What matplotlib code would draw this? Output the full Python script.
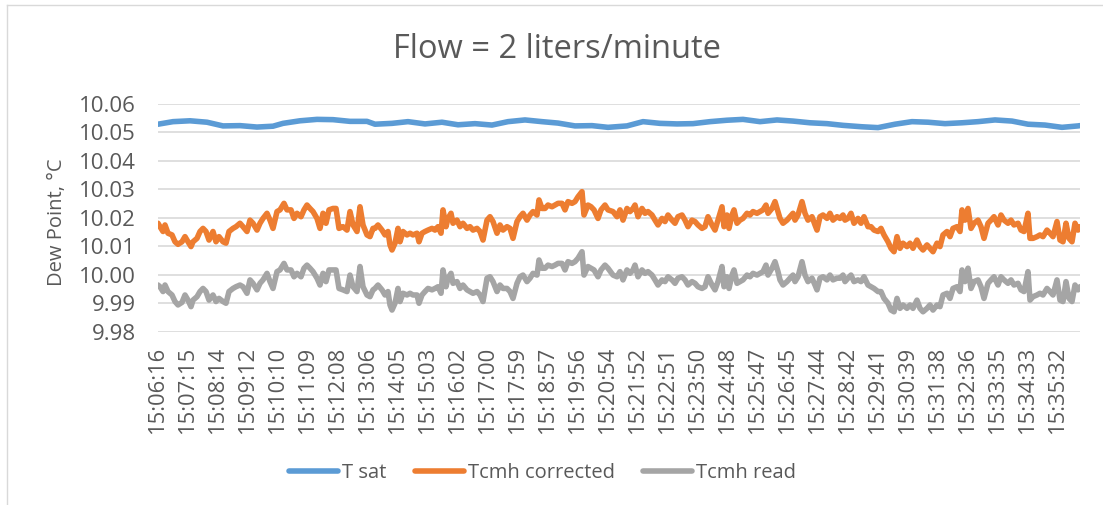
import matplotlib
matplotlib.use("Agg")
import matplotlib.pyplot as plt
from matplotlib.lines import Line2D

plt.rcParams['font.family'] = ['Open Sans', 'DejaVu Sans']

title = "Flow = 2 liters/minute"
y_label = "Dew Point, °C"
series_names = ["T sat", "Tcmh corrected", "Tcmh read"]
colors = ["#5B9BD5", "#ED7D31", "#A5A5A5"]

tick_labels = ["15:06:16", "15:07:15", "15:08:14", "15:09:12", "15:10:10", "15:11:09",
               "15:12:08", "15:13:06", "15:14:05", "15:15:03", "15:16:02", "15:17:00",
               "15:17:59", "15:18:57", "15:19:56", "15:20:54", "15:21:52", "15:22:51",
               "15:23:50", "15:24:48", "15:25:47", "15:26:45", "15:27:44", "15:28:42",
               "15:29:41", "15:30:39", "15:31:38", "15:32:36", "15:33:35", "15:34:33",
               "15:35:32"]
samples_per_label = 30
n_samples = 923

# T sat readings (sample number, value)
tsat_idx = [0, 15, 32, 49, 65, 82, 99, 115, 125, 142, 159, 175, 192, 209,
            217, 234, 250, 267, 284, 300, 317, 334, 350, 367, 384, 400, 417, 434, 450,
            469, 485, 502, 519, 535, 552, 569, 585, 602, 619, 635, 652, 669, 685,
            704, 720, 737, 754, 770, 787, 804, 820, 837, 854, 870, 887, 904, 920, 922]
tsat = [10.0529, 10.0538, 10.0541, 10.0536, 10.0523, 10.0524, 10.0519, 10.0522, 10.0532, 10.0541, 10.0546, 10.0545, 10.0539, 10.0539,
        10.0529, 10.0532, 10.0538, 10.0530, 10.0536, 10.0527, 10.0531, 10.0526, 10.0538, 10.0544, 10.0538, 10.0533, 10.0523, 10.0524, 10.0518,
        10.0523, 10.0538, 10.0532, 10.0530, 10.0531, 10.0538, 10.0543, 10.0546, 10.0538, 10.0544, 10.0540, 10.0534, 10.0531, 10.0525,
        10.0520, 10.0517, 10.0529, 10.0538, 10.0536, 10.0531, 10.0534, 10.0538, 10.0544, 10.0540, 10.0529, 10.0526, 10.0518, 10.0523, 10.0524]

# Tcmh readings (sample number shared by both Tcmh series)
tcmh_idx = [0, 2, 5, 7, 10, 14, 17, 20, 24, 27, 30, 33, 35, 39, 42, 45, 48, 51, 55, 58,
            61, 65, 68, 71, 75, 78, 82, 85, 89, 92, 95, 99, 102, 105, 109, 112, 115, 119, 122, 126,
            129, 133, 136, 139, 143, 146, 149, 152, 155, 159, 162, 165, 168, 171, 175, 178, 181, 185, 189, 192,
            195, 199, 202, 205, 209, 212, 215,
            217, 220, 224, 227, 230, 232, 234, 237, 240, 242, 245, 249, 252, 255, 259,
            261, 264, 267, 270, 274, 277, 280, 283, 285, 288, 290, 293, 295, 299, 302,
            305, 309, 312, 315, 319, 322, 325, 329, 332, 335, 339, 342, 345, 349, 352,
            355, 359, 362, 365, 369, 372, 375, 379, 381, 384, 387, 390, 394, 397, 400,
            404, 407, 410, 414, 417, 420, 424, 426, 430, 433, 436, 440, 443, 447, 450,
            455, 459, 462, 465, 469, 472, 475, 477, 480, 484, 487, 490, 494, 497, 500,
            504, 507, 510, 514, 517, 520, 524, 527, 530, 534, 537, 540, 544, 547, 550,
            554, 557, 560, 564, 566, 569, 571, 574, 576, 579, 582, 585, 589, 592, 595,
            599, 602, 605, 608, 610, 614, 617, 620, 622, 625, 629, 632, 635, 637, 640,
            644, 647, 650, 654, 657, 659, 662, 665, 669, 672, 675, 679, 682, 685,
            687, 690, 693, 696, 700, 703, 706, 710, 713, 716, 720, 723, 726, 730, 733,
            736, 739, 742, 745, 749, 752, 755, 759, 762, 765, 769, 772, 775, 779, 782,
            785, 789, 792, 795, 799, 802, 804, 807, 810, 813, 816, 820, 823, 826, 830,
            833, 836, 840, 843, 846, 850, 853, 856, 860, 863, 866, 870, 872, 875, 879,
            882, 885, 889, 892, 895, 899, 902, 905, 908, 911, 914, 917, 920, 922]

tcmh_corrected = [
    10.0181, 10.0169, 10.0152, 10.0175, 10.0146, 10.0140, 10.0116, 10.0107, 10.0116, 10.0134,
    10.0116, 10.0099, 10.0116, 10.0128, 10.0152, 10.0163, 10.0152, 10.0122, 10.0152, 10.0116,
    10.0134, 10.0116, 10.0111, 10.0152, 10.0163, 10.0169, 10.0181, 10.0169, 10.0152, 10.0192,
    10.0181, 10.0157, 10.0181, 10.0198, 10.0216, 10.0192, 10.0163, 10.0222, 10.0228, 10.0251,
    10.0228, 10.0228, 10.0198, 10.0216, 10.0204, 10.0228, 10.0245, 10.0233, 10.0222, 10.0198,
    10.0163, 10.0216, 10.0181, 10.0228, 10.0233, 10.0233, 10.0163, 10.0169, 10.0157, 10.0222,
    10.0175, 10.0152, 10.0239, 10.0175, 10.0140, 10.0134, 10.0163,
    10.0163, 10.0175, 10.0157, 10.0140, 10.0152, 10.0105, 10.0087, 10.0111, 10.0163, 10.0116,
    10.0152, 10.0140, 10.0146, 10.0140, 10.0146, 10.0116, 10.0146, 10.0152, 10.0157, 10.0163,
    10.0157, 10.0169, 10.0146, 10.0228, 10.0169, 10.0198, 10.0216, 10.0181, 10.0192, 10.0169,
    10.0181, 10.0163, 10.0169, 10.0157, 10.0163, 10.0152, 10.0122, 10.0192, 10.0204, 10.0187,
    10.0146, 10.0175, 10.0157, 10.0169, 10.0163, 10.0128, 10.0187, 10.0204, 10.0216, 10.0192,
    10.0210, 10.0222, 10.0210, 10.0263, 10.0233, 10.0233, 10.0245, 10.0239, 10.0245, 10.0251,
    10.0251, 10.0228, 10.0257, 10.0251, 10.0257, 10.0274, 10.0292, 10.0210, 10.0245, 10.0239,
    10.0228, 10.0198, 10.0228, 10.0245, 10.0228,
    10.0222, 10.0204, 10.0228, 10.0192, 10.0233, 10.0222, 10.0233, 10.0245, 10.0204, 10.0233,
    10.0216, 10.0222, 10.0210, 10.0192, 10.0175, 10.0198, 10.0187, 10.0210, 10.0192, 10.0181,
    10.0204, 10.0210, 10.0192, 10.0169, 10.0192, 10.0187, 10.0175, 10.0163, 10.0169, 10.0204,
    10.0175, 10.0157, 10.0192, 10.0239, 10.0169, 10.0210, 10.0163, 10.0210, 10.0228, 10.0181,
    10.0192, 10.0198, 10.0216, 10.0210, 10.0222, 10.0216, 10.0222, 10.0228, 10.0245, 10.0216,
    10.0233, 10.0257, 10.0222, 10.0198, 10.0181, 10.0192, 10.0204, 10.0216, 10.0192, 10.0210,
    10.0257, 10.0216, 10.0192, 10.0204, 10.0175, 10.0157, 10.0204, 10.0210, 10.0198, 10.0216,
    10.0192, 10.0204, 10.0198, 10.0210,
    10.0192, 10.0198, 10.0216, 10.0181, 10.0198, 10.0181, 10.0204, 10.0169, 10.0169, 10.0157,
    10.0152, 10.0163, 10.0140, 10.0116, 10.0093, 10.0081, 10.0134, 10.0093, 10.0111, 10.0099,
    10.0111, 10.0093, 10.0122, 10.0099, 10.0087, 10.0105, 10.0093, 10.0081, 10.0111, 10.0099,
    10.0140, 10.0152, 10.0134, 10.0163, 10.0169, 10.0152, 10.0228, 10.0192, 10.0233, 10.0163,
    10.0181, 10.0192, 10.0169, 10.0128, 10.0181, 10.0192, 10.0204, 10.0175, 10.0210, 10.0192,
    10.0181, 10.0192, 10.0175, 10.0181, 10.0157, 10.0152, 10.0216, 10.0128, 10.0128, 10.0134,
    10.0140, 10.0134, 10.0157, 10.0146, 10.0134, 10.0187, 10.0122, 10.0116, 10.0181, 10.0128,
    10.0116, 10.0181, 10.0157, 10.0169]

tcmh_read = [
    9.9964, 9.9958, 9.9941, 9.9964, 9.9941, 9.9929, 9.9906, 9.9894, 9.9903, 9.9929,
    9.9911, 9.9888, 9.9911, 9.9923, 9.9941, 9.9952, 9.9941, 9.9911, 9.9929, 9.9906,
    9.9917, 9.9906, 9.9900, 9.9941, 9.9952, 9.9958, 9.9964, 9.9958, 9.9935, 9.9982,
    9.9970, 9.9947, 9.9970, 9.9982, 10.0005, 9.9976, 9.9952, 10.0011, 10.0017, 10.0040,
    10.0017, 10.0017, 9.9993, 10.0005, 9.9993, 10.0023, 10.0034, 10.0023, 10.0011, 9.9988,
    9.9964, 10.0005, 9.9976, 10.0017, 10.0017, 10.0017, 9.9952, 9.9947, 9.9941, 9.9999,
    9.9958, 9.9941, 10.0029, 9.9958, 9.9929, 9.9923, 9.9947,
    9.9952, 9.9964, 9.9947, 9.9929, 9.9941, 9.9894, 9.9876, 9.9900, 9.9952, 9.9906,
    9.9935, 9.9929, 9.9935, 9.9929, 9.9929, 9.9900, 9.9929, 9.9941, 9.9952, 9.9947,
    9.9952, 9.9958, 9.9935, 10.0017, 9.9958, 9.9988, 10.0005, 9.9970, 9.9976, 9.9952,
    9.9964, 9.9947, 9.9941, 9.9935, 9.9941, 9.9929, 9.9906, 9.9988, 9.9993, 9.9976,
    9.9941, 9.9964, 9.9952, 9.9952, 9.9941, 9.9917, 9.9970, 9.9993, 9.9999, 9.9976,
    9.9988, 10.0005, 9.9999, 10.0052, 10.0023, 10.0023, 10.0034, 10.0029, 10.0034, 10.0040,
    10.0040, 10.0017, 10.0046, 10.0040, 10.0046, 10.0058, 10.0081, 9.9999, 10.0029, 10.0023,
    10.0017, 9.9993, 10.0017, 10.0034, 10.0023,
    9.9999, 9.9993, 10.0011, 9.9982, 10.0017, 10.0005, 10.0017, 10.0034, 9.9993, 10.0017,
    10.0005, 10.0011, 9.9999, 9.9982, 9.9964, 9.9982, 9.9976, 9.9993, 9.9982, 9.9970,
    9.9988, 9.9993, 9.9982, 9.9964, 9.9976, 9.9970, 9.9958, 9.9952, 9.9958, 9.9993,
    9.9964, 9.9947, 9.9976, 10.0029, 9.9958, 9.9993, 9.9952, 9.9999, 10.0017, 9.9970,
    9.9976, 9.9982, 9.9999, 9.9993, 10.0005, 9.9999, 10.0005, 10.0011, 10.0034, 9.9999,
    10.0023, 10.0046, 10.0011, 9.9982, 9.9964, 9.9976, 9.9988, 9.9999, 9.9976, 9.9993,
    10.0046, 9.9999, 9.9976, 9.9988, 9.9964, 9.9947, 9.9988, 9.9993, 9.9982, 9.9999,
    9.9982, 9.9988, 9.9988, 9.9999,
    9.9976, 9.9988, 9.9999, 9.9976, 9.9982, 9.9976, 9.9993, 9.9964, 9.9958, 9.9952,
    9.9941, 9.9941, 9.9917, 9.9900, 9.9876, 9.9870, 9.9917, 9.9882, 9.9894, 9.9882,
    9.9894, 9.9882, 9.9911, 9.9882, 9.9870, 9.9882, 9.9894, 9.9876, 9.9894, 9.9888,
    9.9929, 9.9935, 9.9917, 9.9952, 9.9958, 9.9941, 10.0017, 9.9976, 10.0023, 9.9952,
    9.9976, 9.9982, 9.9958, 9.9917, 9.9970, 9.9982, 9.9993, 9.9964, 9.9993, 9.9982,
    9.9970, 9.9982, 9.9964, 9.9970, 9.9947, 9.9941, 10.0011, 9.9911, 9.9923, 9.9929,
    9.9935, 9.9929, 9.9952, 9.9941, 9.9929, 9.9982, 9.9911, 9.9906, 9.9976, 9.9917,
    9.9906, 9.9964, 9.9947, 9.9958]

y_ticks = [9.98, 9.99, 10.00, 10.01, 10.02, 10.03, 10.04, 10.05, 10.06]

text_color = "#595959"
grid_color = "#D9D9D9"

W, H = 1103, 505
fig = plt.figure(figsize=(W / 100, H / 100), dpi=100)
ax = fig.add_axes([158 / W, 1 - 331.7 / H, 922 / W, 227.7 / H])

lw = 4.0
ax.plot(tsat_idx, tsat, color=colors[0], lw=lw, solid_joinstyle='round', solid_capstyle='round', zorder=3)
ax.plot(tcmh_idx, tcmh_corrected, color=colors[1], lw=lw, solid_joinstyle='round', solid_capstyle='round', zorder=3)
ax.plot(tcmh_idx, tcmh_read, color=colors[2], lw=lw, solid_joinstyle='round', solid_capstyle='round', zorder=3)

ax.set_xlim(0, n_samples - 1)
ax.set_ylim(y_ticks[0], y_ticks[-1])
ax.set_yticks(y_ticks)
ax.set_yticklabels([f"{v:.2f}" for v in y_ticks])
ax.set_xticks([i * samples_per_label for i in range(len(tick_labels))])
ax.set_xticklabels(tick_labels, rotation=90)
ax.grid(axis='y', color=grid_color, lw=1.2, zorder=0)
for s in ax.spines.values():
    s.set_visible(False)
ax.tick_params(axis='both', length=0, colors=text_color)
ax.tick_params(axis='y', pad=16, labelsize=16)
ax.tick_params(axis='x', pad=11, labelsize=15.8)

fig.text(557 / W, 1 - 58.3 / H, title, ha='center', va='baseline', fontsize=23.5, color=text_color)
fig.text(57 / W, 1 - 222 / H, y_label, ha='center', va='center', rotation=90, fontsize=14.5, color=text_color)

handles = [Line2D([0], [0], color=c, lw=lw, solid_capstyle='round') for c in colors]
fig.legend(handles, series_names, loc='center', bbox_to_anchor=(542.5 / W, 1 - 472.7 / H),
           ncol=3, frameon=False, fontsize=14.5, labelcolor=text_color,
           handlelength=2.45, handletextpad=0.2, columnspacing=1.4)

# outer chart border (left and top visible)
fig.add_artist(Line2D([7 / W, 7 / W], [0, 1 - 5 / H], color=grid_color, lw=1.0, transform=fig.transFigure))
fig.add_artist(Line2D([7 / W, 1], [1 - 5 / H, 1 - 5 / H], color=grid_color, lw=1.0, transform=fig.transFigure))

fig.savefig("out.png", dpi=100)
